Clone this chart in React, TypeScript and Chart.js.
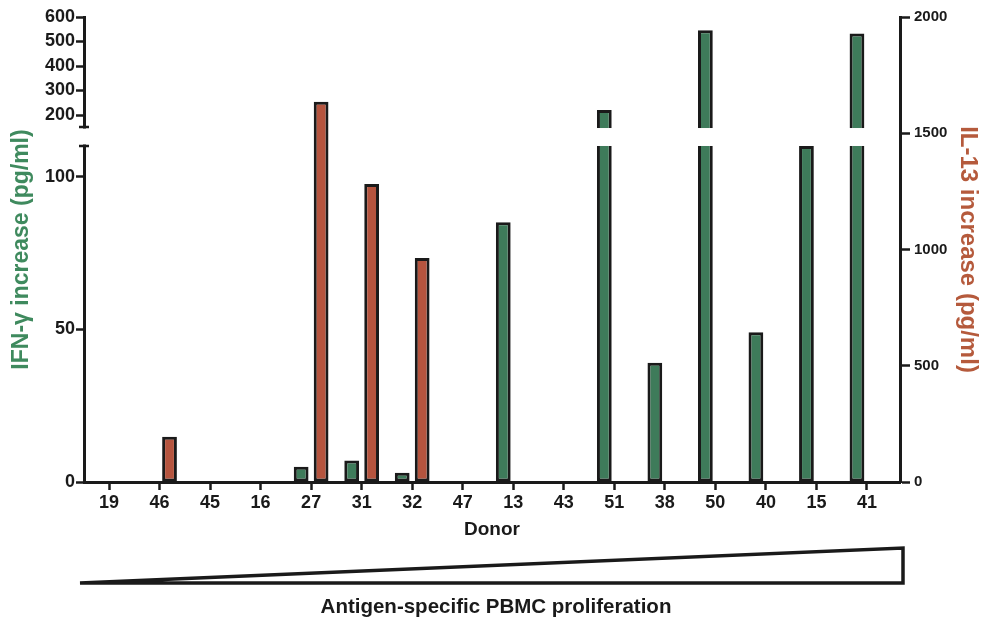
import React, { useEffect, useRef } from 'react';
import { Chart, registerables, LinearScale } from 'chart.js';

// ---------- data ----------
const donors = ['19', '46', '45', '16', '27', '31', '32', '47', '13', '43', '51', '38', '50', '40', '15', '41'];
const ifngValues = [0, 0, 0, 0, 5, 7, 3, 0, 85, 0, 220, 39, 546, 49, 110, 533];
const il13Values = [0, 195, 0, 0, 1635, 1282, 963, 0, 0, 0, 0, 0, 0, 0, 0, 0];
const leftTicks = [0, 50, 100, 200, 300, 400, 500, 600];
const rightTicks = [0, 500, 1000, 1500, 2000];

// ---------- axis break configuration ----------
const BREAK = { low: 110, high: 151, fracLow: 0.7226, fracHigh: 0.7634 };

const GREEN = '#3e7b5a';
const RED = '#b5543e';
const INK = '#1a1a1a';
const FONT = "'Liberation Sans', Arial, Helvetica, sans-serif";

class BrokenLinearScale extends LinearScale {
  static id = 'brokenLinear';
  static defaults = LinearScale.defaults;

  getPixelForValue(value: any) {
    if (value === null || value === undefined || isNaN(value)) return NaN;
    const min = (this as any).min;
    const max = (this as any).max;
    let f: number;
    if (value <= BREAK.low) {
      f = ((value - min) / (BREAK.low - min)) * BREAK.fracLow;
    } else if (value >= BREAK.high) {
      f = BREAK.fracHigh + ((value - BREAK.high) / (max - BREAK.high)) * (1 - BREAK.fracHigh);
    } else {
      f = BREAK.fracLow + ((value - BREAK.low) / (BREAK.high - BREAK.low)) * (BREAK.fracHigh - BREAK.fracLow);
    }
    const top = (this as any).top;
    const bottom = (this as any).bottom;
    return bottom - f * (bottom - top);
  }

  getValueForPixel(pixel: number) {
    const min = (this as any).min;
    const max = (this as any).max;
    const top = (this as any).top;
    const bottom = (this as any).bottom;
    const f = (bottom - pixel) / (bottom - top);
    if (f <= BREAK.fracLow) return min + (f / BREAK.fracLow) * (BREAK.low - min);
    if (f >= BREAK.fracHigh) return BREAK.high + ((f - BREAK.fracHigh) / (1 - BREAK.fracHigh)) * (max - BREAK.high);
    return BREAK.low + ((f - BREAK.fracLow) / (BREAK.fracHigh - BREAK.fracLow)) * (BREAK.high - BREAK.low);
  }
}

Chart.register(...registerables, BrokenLinearScale as any);

const breakPlugin = {
  id: 'axisBreak',
  afterDatasetsDraw(chart: any) {
    const y = chart.scales.yL;
    const pLow = y.getPixelForValue(BREAK.low);
    const pHigh = y.getPixelForValue(BREAK.high);
    const ctx = chart.ctx;
    ctx.save();
    ctx.fillStyle = '#ffffff';
    const meta = chart.getDatasetMeta(0);
    meta.data.forEach((bar: any) => {
      if (bar.y < pHigh) {
        ctx.fillRect(bar.x - bar.width / 2 - 2, pHigh + 1, bar.width + 4, pLow - pHigh - 1);
      }
    });
    const ax = chart.chartArea.left;
    ctx.fillRect(ax - 6, pHigh + 1.5, 12, pLow - pHigh - 3);
    ctx.strokeStyle = INK;
    ctx.lineWidth = 2.5;
    ctx.beginPath();
    ctx.moveTo(ax - 5, pHigh);
    ctx.lineTo(ax + 5, pHigh);
    ctx.moveTo(ax - 5, pLow);
    ctx.lineTo(ax + 5, pLow);
    ctx.stroke();
    ctx.restore();
  },
};

const trianglePlugin = {
  id: 'prolifTriangle',
  afterDraw(chart: any) {
    const a = chart.chartArea;
    const ctx = chart.ctx;
    ctx.save();
    ctx.strokeStyle = INK;
    ctx.lineWidth = 3.5;
    ctx.lineJoin = 'miter';
    ctx.beginPath();
    ctx.moveTo(a.left - 4, 583);
    ctx.lineTo(a.right + 3, 583);
    ctx.lineTo(a.right + 3, 548);
    ctx.closePath();
    ctx.stroke();
    ctx.restore();
  },
};

export default function App() {
  const ref = useRef<HTMLCanvasElement | null>(null);

  useEffect(() => {
    if (!ref.current) return;
    Chart.defaults.font.family = FONT;
    const chart = new Chart(ref.current, {
      type: 'bar',
      data: {
        datasets: [
          {
            label: 'IFN-γ',
            data: donors.map((_, i) => ({ x: i, y: ifngValues[i] })),
            backgroundColor: GREEN,
            borderColor: INK,
            borderWidth: 3,
            borderSkipped: false,
            yAxisID: 'yL',
          },
          {
            label: 'IL-13',
            data: donors.map((_, i) => ({ x: i, y: il13Values[i] })),
            backgroundColor: RED,
            borderColor: INK,
            borderWidth: 3,
            borderSkipped: false,
            yAxisID: 'yR',
          },
        ],
      } as any,
      options: {
        animation: false,
        responsive: false,
        devicePixelRatio: 1,
        categoryPercentage: 0.79,
        barPercentage: 0.74,
        layout: { padding: { top: 17, left: 0, right: 0, bottom: 0 } },
        plugins: {
          legend: { display: false },
          tooltip: { enabled: false },
          title: {
            display: true,
            position: 'bottom',
            text: 'Antigen-specific PBMC proliferation',
            color: INK,
            font: { size: 20.5, weight: 'bold' },
            padding: { top: 4, bottom: 5 },
          },
        },
        scales: {
          x: {
            type: 'linear',
            position: 'bottom',
            min: -0.495,
            max: 15.654,
            offset: false,
            bounds: 'data',
            afterBuildTicks: (s: any) => {
              s.ticks = donors.map((_, i) => ({ value: i }));
            },
            afterFit: (s: any) => {
              s.height = 109.4;
            },
            ticks: {
              autoSkip: false,
              maxRotation: 0,
              padding: 2,
              color: INK,
              font: { size: 18, weight: 'bold' },
              callback: (_v: any, i: number) => donors[i],
            },
            grid: { drawOnChartArea: false, drawTicks: true, tickLength: 8, tickWidth: 2.5, tickColor: INK, offset: false },
            border: { display: true, color: INK, width: 3 },
            title: {
              display: true,
              text: 'Donor',
              color: INK,
              font: { size: 19, weight: 'bold' },
              padding: { top: 0, bottom: 50 },
            },
          },
          yL: {
            type: 'brokenLinear',
            position: 'left',
            min: 0,
            max: 600,
            bounds: 'data',
            afterBuildTicks: (s: any) => {
              s.ticks = leftTicks.map((v) => ({ value: v }));
            },
            afterFit: (s: any) => {
              s.width = 84;
            },
            ticks: { autoSkip: false, padding: 1, color: INK, font: { size: 18, weight: 'bold' }, callback: (v: any) => String(v) },
            grid: { drawOnChartArea: false, drawTicks: true, tickLength: 8, tickWidth: 2.5, tickColor: INK },
            border: { display: true, color: INK, width: 3 },
            title: {
              display: true,
              text: 'IFN-γ increase (pg/ml)',
              color: '#3f8a5e',
              font: { size: 23, weight: 'bold' },
              padding: { top: 8, bottom: 0 },
            },
          },
          yR: {
            type: 'linear',
            position: 'right',
            min: 0,
            max: 2000,
            bounds: 'data',
            afterBuildTicks: (s: any) => {
              s.ticks = rightTicks.map((v) => ({ value: v }));
            },
            afterFit: (s: any) => {
              s.width = 92;
            },
            ticks: { autoSkip: false, padding: 4, color: INK, font: { size: 15, weight: 'bold' }, callback: (v: any) => String(v) },
            grid: { drawOnChartArea: false, drawTicks: true, tickLength: 10, tickWidth: 2.5, tickColor: INK },
            border: { display: true, color: INK, width: 3 },
            title: {
              display: true,
              text: 'IL-13 increase (pg/ml)',
              color: '#b55a3c',
              font: { size: 24, weight: 'bold' },
              padding: { top: 10, bottom: 0 },
            },
          },
        } as any,
      } as any,
      plugins: [breakPlugin, trianglePlugin],
    });
    return () => chart.destroy();
  }, []);

  return (
    <div style={{ position: 'fixed', left: 0, top: 0, width: 992, height: 625, background: '#ffffff' }}>
      <canvas ref={ref} width={992} height={625} />
    </div>
  );
}
